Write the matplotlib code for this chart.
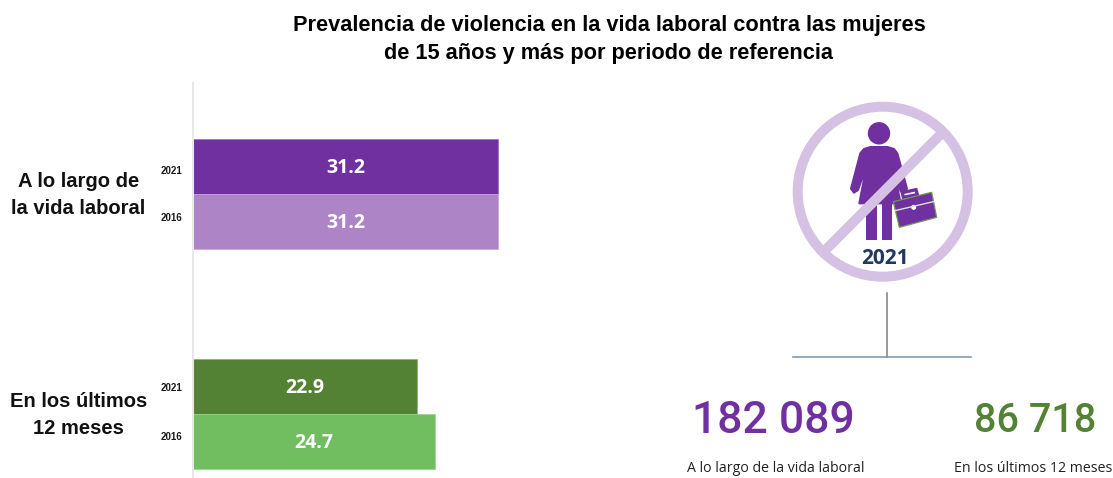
import matplotlib
matplotlib.use("Agg")
import matplotlib.pyplot as plt
from matplotlib.patches import Circle, Polygon, Rectangle

# data
years = ["2021", "2016", "2021", "2016"]
values = [31.2, 31.2, 22.9, 24.7]
positions = [0, 1, 4, 5]
year_ticks = [0.07, 0.93, 4.01, 4.91]
bar_colors = ["#7030A0", "#AD84C6", "#548235", "#71BE60"]
edge_colors = ["#9A70BC", "#C6A9D9", "#8FAE78", "#9AD48C"]
group_labels = ["A lo largo de\nla vida laboral", "En los últimos\n12 meses"]
group_centers = [0.52, 4.52]
totals = ["182 089", "86 718"]
total_labels = ["A lo largo de la vida laboral", "En los últimos 12 meses"]
total_colors = ["#7030A0", "#548235"]
title = "Prevalencia de violencia en la vida laboral contra las mujeres\nde 15 años y más por periodo de referencia"

W, H = 1113, 478
SANS = ["Liberation Sans", "DejaVu Sans"]
BODY = ["Open Sans", "DejaVu Sans"]

fig = plt.figure(figsize=(W / 100, H / 100), dpi=100)

# overlay in pixel coordinates for the title and the icon
over = fig.add_axes([0, 0, 1, 1])
over.set_xlim(0, W)
over.set_ylim(H, 0)
over.axis("off")

# bars: 9.79 px per unit, 55 px per row
ax = fig.add_axes([193 / W, 0, 391.6 / W, 395 / H])
ax.patch.set_alpha(0)
ax.barh(positions, values, height=1, color=bar_colors, edgecolor=edge_colors, linewidth=0.5)
ax.set_xlim(0, 40)
ax.set_ylim(5.67, -1.51)
ax.set_xticks([])
ax.set_yticks(year_ticks, years, fontsize=7, fontweight="bold", family=SANS, color="#1a1a1a")
ax.tick_params(axis="y", length=0, pad=8)
for s in ["top", "right", "bottom"]:
    ax.spines[s].set_visible(False)
ax.spines["left"].set_color("#E8E8E8")
ax.spines["left"].set_linewidth(1.5)

for p, v in zip(positions, values):
    ax.text(v / 2, p + 0.04, f"{v:.1f}", color="white", ha="center", va="center",
            fontsize=14, fontweight="bold", family=BODY)

for c, lab in zip(group_centers, group_labels):
    ax.text(-11.7, c, lab, ha="center", va="center", fontsize=14.5, fontweight="bold",
            family=SANS, color="#111111", linespacing=1.55, clip_on=False)

over.text(609, 39.5, title, ha="center", va="center", fontsize=15.7, fontweight="bold",
          family=SANS, color="black", linespacing=1.47)


# icon outlines traced on a 3x crop starting at (780, 90)
def z(pts):
    return [(780 + a / 3, 90 + b / 3) for a, b in pts]


ring = "#D5C1E3"
purple = "#7030A0"
over.add_patch(Circle((882.7, 191.7), 85, facecolor="none", edgecolor=ring, linewidth=7.2))
over.plot([826.5, 941], [249, 134], color=ring, lw=7.2, solid_capstyle="butt")

over.add_patch(Circle((879, 133.3), 10.5, color=purple))
body = [(272, 171), (322, 171), (342, 177), (352, 190), (381, 296), (374, 306), (362, 304),
        (338, 226), (362, 340), (238, 340), (260, 226), (234, 300), (222, 308), (213, 296),
        (241, 190), (252, 177)]
over.add_patch(Polygon(z(body), closed=True, facecolor=purple, edgecolor=purple, lw=1.5,
                       joinstyle="round"))
for x0, x1 in [(258, 290), (305, 337)]:
    over.add_patch(Rectangle((780 + x0 / 3, 90 + 340 / 3), (x1 - x0) / 3, 110 / 3, color=purple, lw=0))

over.add_patch(Polygon(z([(370, 322), (367, 308), (408, 299), (412, 314)]), closed=True,
                       facecolor="white", edgecolor=purple, lw=2.4))
case = [(340, 335), (455, 307), (470, 382), (358, 412)]
over.add_patch(Polygon(z(case), closed=True, facecolor=purple, edgecolor="#6F9A50", lw=0.9))
over.plot(*zip(*z([(345, 362), (460, 335)])), color="#D8E4D0", lw=1)
over.add_patch(Circle(z([(401, 352)])[0], 1.8, color="white"))

over.text(885, 259, "2021", ha="center", va="center", fontsize=15, fontweight="bold",
          family=BODY, color="#1F3864")

over.plot([886.7, 886.7], [293, 357], color="#7F7F7F", lw=1.1)
over.plot([793, 970.5], [357, 357], color="#8497B0", lw=1.2)

for x, t, c, fs in zip([773, 1035], totals, total_colors, [32, 28.5]):
    over.text(x, 421, t, ha="center", va="center", fontsize=fs, color=c,
              family=["Roboto", "DejaVu Sans"], fontweight="medium")
for x, t in zip([775.5, 1033], total_labels):
    over.text(x, 468, t, ha="center", va="center", fontsize=10.2, color="#222222", family=BODY)

fig.savefig("out.png", dpi=100)
